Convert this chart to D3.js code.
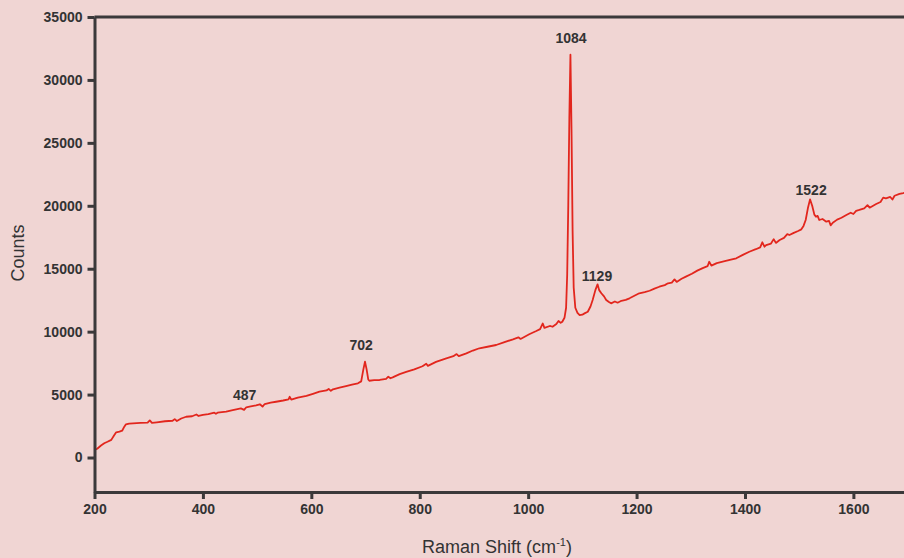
<!DOCTYPE html>
<html>
<head>
<meta charset="utf-8">
<script src="https://cdn.jsdelivr.net/npm/d3@7"></script>
<style>
  html, body { margin: 0; padding: 0; background: #f0d5d3; overflow: hidden; }
  svg { display: block; }
</style>
</head>
<body>
<div id="chart"></div>
<script>
// Raman spectrum
const shift = [200, 205, 212, 218, 224, 231, 236, 240, 246, 251, 255, 258, 264, 271, 285, 298, 302, 306, 315, 330,
  344, 348, 352, 360, 369, 380, 388, 392, 400, 410, 421, 424, 427, 443, 455, 470, 476, 480, 486, 498,
  505, 510, 514, 525, 535, 548, 558, 560, 563, 575, 591, 603, 615, 628, 632, 636, 640, 652, 664, 675,
  686, 692, 696, 699, 702, 705, 707, 716, 726, 738, 742, 746, 750, 763, 775, 790, 805, 812, 815, 830,
  849, 862, 868, 872, 886, 898, 910, 925, 941, 955, 972, 982, 986, 1002, 1015, 1022, 1027, 1030, 1040, 1045,
  1052, 1056, 1060, 1063, 1067, 1070, 1072, 1074, 1076, 1078, 1080, 1082, 1084, 1087, 1091, 1095, 1100, 1104, 1110, 1115,
  1119, 1124, 1128, 1131, 1135, 1140, 1144, 1149, 1153, 1160, 1165, 1172, 1180, 1187, 1196, 1205, 1215, 1224, 1233, 1242,
  1252, 1258, 1265, 1270, 1274, 1283, 1291, 1302, 1312, 1322, 1331, 1334, 1338, 1348, 1359, 1372, 1384, 1396, 1408, 1420,
  1428, 1432, 1436, 1439, 1448, 1453, 1457, 1464, 1472, 1478, 1482, 1490, 1498, 1504, 1508, 1512, 1516, 1520, 1524, 1528,
  1531, 1534, 1537, 1543, 1550, 1555, 1558, 1562, 1570, 1578, 1587, 1595, 1600, 1605, 1611, 1620, 1626, 1630, 1642, 1650,
  1655, 1660, 1668, 1672, 1676, 1685, 1692, 1700];
const counts = [600, 700, 950, 1130, 1250, 1400, 1750, 2000, 2050, 2130, 2450, 2640, 2700, 2720, 2750, 2770, 2950, 2750, 2800, 2880,
  2920, 3050, 2900, 3100, 3240, 3280, 3420, 3300, 3380, 3450, 3560, 3480, 3560, 3640, 3770, 3900, 3780, 3990, 4040, 4150,
  4230, 4050, 4250, 4360, 4430, 4530, 4620, 4830, 4600, 4750, 4890, 5060, 5230, 5330, 5450, 5300, 5420, 5550, 5680, 5800,
  5900, 6050, 7000, 7610, 7000, 6200, 6100, 6150, 6160, 6250, 6420, 6300, 6370, 6630, 6800, 7000, 7250, 7450, 7280, 7600,
  7880, 8050, 8220, 8050, 8280, 8500, 8680, 8800, 8940, 9150, 9390, 9550, 9420, 9790, 10050, 10200, 10650, 10300, 10450, 10390,
  10600, 10850, 10700, 10790, 11100, 11900, 14500, 20000, 27000, 32000, 26000, 18000, 13500, 11900, 11500, 11320, 11350, 11450, 11580, 12000,
  12510, 13300, 13760, 13300, 13050, 12800, 12510, 12350, 12250, 12400, 12300, 12450, 12520, 12650, 12850, 13050, 13150, 13250, 13420, 13570,
  13700, 13840, 13900, 14150, 13950, 14200, 14370, 14600, 14850, 15050, 15200, 15550, 15250, 15450, 15560, 15700, 15830, 16100, 16350, 16550,
  16700, 17100, 16750, 16880, 17000, 17350, 17050, 17280, 17450, 17750, 17680, 17850, 18000, 18130, 18400, 18870, 19800, 20510, 20000, 19300,
  19130, 19200, 18870, 18950, 18740, 18800, 18450, 18650, 18900, 19050, 19270, 19450, 19350, 19600, 19670, 19800, 20050, 19850, 20140, 20300,
  20650, 20590, 20700, 20500, 20800, 20940, 21010, 21100];

// peak annotations (label text and where it sits, in data units)
const peakLabels = ["487", "702", "1084", "1129", "1522"];
const peakShift = [477, 692, 1079, 1127, 1522];
const peakCounts = [4530, 8580, 32950, 14010, 20840];

const xTicks = [200, 400, 600, 800, 1000, 1200, 1400, 1600];
const yTicks = [0, 5000, 10000, 15000, 20000, 25000, 30000, 35000];

const width = 904, height = 558;
const svg = d3.select("#chart").append("svg")
  .attr("width", width)
  .attr("height", height);

svg.append("rect")
  .attr("width", width).attr("height", height)
  .attr("fill", "#f0d5d3");

const x = d3.scaleLinear().domain([200, 1700]).range([94.5, 907.6]);
const y = d3.scaleLinear().domain([-2740, 35000]).range([492, 17]);

const axisColor = "#3b393a";
const font = "'Liberation Sans', Arial, Helvetica, sans-serif";

// top frame line
svg.append("line")
  .attr("x1", x(200)).attr("x2", x(1700))
  .attr("y1", y(35000)).attr("y2", y(35000))
  .attr("stroke", axisColor).attr("stroke-width", 3);

// spectrum
const pts = shift.map((s, i) => [s, counts[i]]);
svg.append("path")
  .datum(pts)
  .attr("fill", "none")
  .attr("stroke", "#e2261d")
  .attr("stroke-width", 1.8)
  .attr("stroke-linejoin", "round")
  .attr("d", d3.line().x(d => x(d[0])).y(d => y(d[1])));

// axes
const xAxis = svg.append("g")
  .attr("transform", `translate(0,${y(-2740)})`)
  .call(d3.axisBottom(x).tickValues(xTicks).tickSize(7).tickSizeOuter(0).tickPadding(5).tickFormat(d3.format("d")));
const yAxis = svg.append("g")
  .attr("transform", `translate(${x(200)},0)`)
  .call(d3.axisLeft(y).tickValues(yTicks).tickSize(7).tickSizeOuter(0).tickPadding(5).tickFormat(d3.format("d")));

[xAxis, yAxis].forEach(g => {
  g.select(".domain").attr("stroke", axisColor).attr("stroke-width", 3);
  g.selectAll(".tick line").attr("stroke", axisColor).attr("stroke-width", 3);
  g.selectAll(".tick text")
    .attr("fill", "#333")
    .attr("font-family", font)
    .attr("font-size", "14px")
    .attr("font-weight", "bold");
});

// peak labels
svg.selectAll(".peak")
  .data(peakLabels)
  .enter()
  .append("text")
  .attr("class", "peak")
  .attr("x", (d, i) => x(peakShift[i]))
  .attr("y", (d, i) => y(peakCounts[i]))
  .attr("text-anchor", "middle")
  .attr("font-family", font)
  .attr("font-size", "14px")
  .attr("font-weight", "bold")
  .attr("fill", "#333")
  .text(d => d);

// axis titles
svg.append("text")
  .attr("transform", "rotate(-90)")
  .attr("x", -253)
  .attr("y", 24)
  .attr("text-anchor", "middle")
  .attr("font-family", font)
  .attr("font-size", "18px")
  .attr("fill", "#333")
  .text("Counts");

const xt = svg.append("text")
  .attr("x", 497)
  .attr("y", 553)
  .attr("text-anchor", "middle")
  .attr("font-family", font)
  .attr("font-size", "18px")
  .attr("fill", "#333");
xt.append("tspan").text("Raman Shift (cm");
xt.append("tspan").attr("dy", -7).attr("font-size", "11px").text("-1");
xt.append("tspan").attr("dy", 7).text(")");
</script>
</body>
</html>
